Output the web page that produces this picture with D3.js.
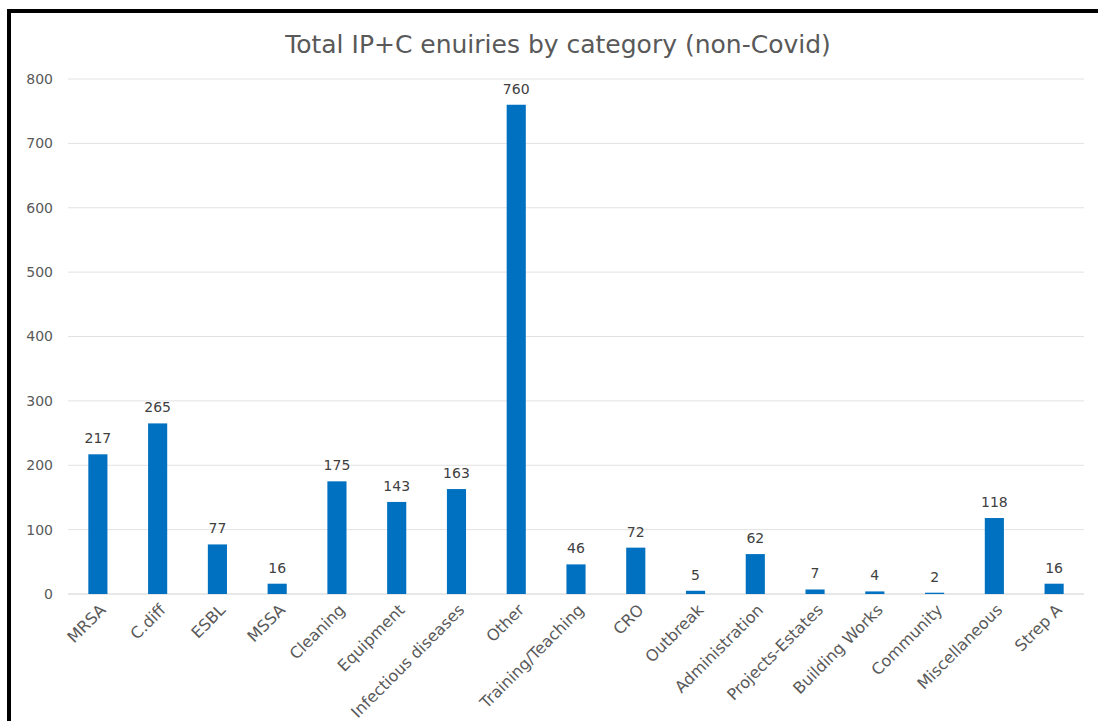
<!DOCTYPE html>
<html>
<head>
<meta charset="utf-8">
<script src="https://cdn.jsdelivr.net/npm/d3@7"></script>
<style>
  body { margin: 0; background: #fff; }
  svg { display: block; font-family: "DejaVu Sans", sans-serif; }
</style>
</head>
<body>
<div id="chart"></div>
<script>
const categories = ["MRSA", "C.diff", "ESBL", "MSSA", "Cleaning", "Equipment",
  "Infectious diseases", "Other", "Training/Teaching", "CRO", "Outbreak",
  "Administration", "Projects-Estates", "Building Works", "Community",
  "Miscellaneous", "Strep A"];
const counts = [217, 265, 77, 16, 175, 143, 163, 760, 46, 72, 5, 62, 7, 4, 2, 118, 16];
const yTicks = [0, 100, 200, 300, 400, 500, 600, 700, 800];

const W = 1098, H = 721;
const margin = { top: 79, right: 14, bottom: 127, left: 68 };

const svg = d3.select("#chart").append("svg")
  .attr("width", W).attr("height", H);

// frame (black border on top and left)
svg.append("rect").attr("x", 0).attr("y", 0).attr("width", W).attr("height", H).attr("fill", "#fff");
svg.append("line").attr("x1", 7).attr("x2", W).attr("y1", 11).attr("y2", 11)
  .attr("stroke", "#000").attr("stroke-width", 4);
svg.append("line").attr("x1", 9).attr("x2", 9).attr("y1", 9).attr("y2", H)
  .attr("stroke", "#000").attr("stroke-width", 4);

const x = d3.scaleBand().domain(categories)
  .range([margin.left, W - margin.right]).paddingInner(0.68).paddingOuter(0.34);
const y = d3.scaleLinear().domain([0, 800]).range([H - margin.bottom, margin.top]);

// title
svg.append("text")
  .attr("x", 558).attr("y", 53)
  .attr("text-anchor", "middle")
  .attr("font-size", 25).attr("fill", "#595959")
  .text("Total IP+C enuiries by category (non-Covid)");

// grid
svg.append("g").selectAll("line").data(yTicks).join("line")
  .attr("x1", margin.left).attr("x2", W - margin.right)
  .attr("y1", d => y(d)).attr("y2", d => y(d))
  .attr("stroke", d => d === 0 ? "#d0d0d0" : "#e2e2e2").attr("stroke-width", 1);

// y axis labels
svg.append("g").selectAll("text").data(yTicks).join("text")
  .attr("x", 53).attr("y", d => y(d)).attr("dy", "0.35em")
  .attr("text-anchor", "end").attr("font-size", 14).attr("fill", "#595959")
  .text(d => d);

// bars
svg.append("g").selectAll("rect").data(counts).join("rect")
  .attr("x", (d, i) => x(categories[i]))
  .attr("width", x.bandwidth())
  .attr("y", d => y(d))
  .attr("height", d => y(0) - y(d))
  .attr("fill", "#0070c0");

// value labels
svg.append("g").selectAll("text").data(counts).join("text")
  .attr("x", (d, i) => x(categories[i]) + x.bandwidth() / 2)
  .attr("y", d => y(d) - 11)
  .attr("text-anchor", "middle").attr("font-size", 14).attr("fill", "#404040")
  .text(d => d);

// category labels
svg.append("g").selectAll("text").data(categories).join("text")
  .attr("transform", d => `translate(${x(d) + x.bandwidth() / 2 + 5},${y(0) + 13}) rotate(-45)`)
  .attr("text-anchor", "end").attr("dy", "0.35em")
  .attr("font-size", 16).attr("fill", "#595959")
  .text(d => d);
</script>
</body>
</html>
